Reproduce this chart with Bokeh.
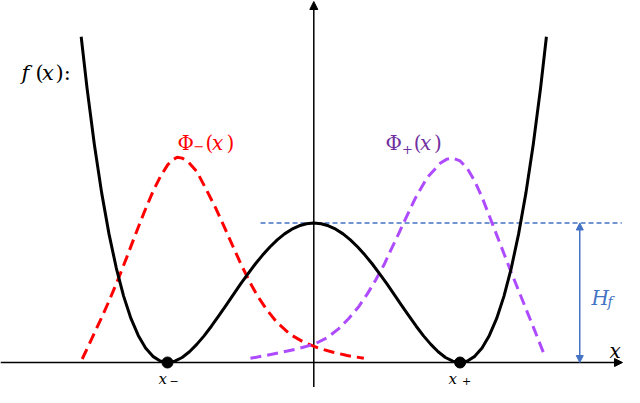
from bokeh.plotting import figure
from bokeh.models import Range1d, Arrow, NormalHead, Label
from bokeh.embed import file_html
from bokeh.resources import INLINE

# ---------------- data ----------------
x_minus = -1.0          # left well position
x_plus = 1.0            # right well position
H_f = 1.0               # barrier height

# double-well f(x)
black_x = [-1.59, -1.55, -1.50, -1.45, -1.40, -1.35, -1.30, -1.25, -1.20, -1.15, -1.10,
           -1.05, -1.00, -0.95, -0.90, -0.85, -0.80, -0.75, -0.70, -0.65, -0.60, -0.55,
           -0.50, -0.45, -0.40, -0.35, -0.30, -0.25, -0.20, -0.15, -0.10, -0.05, 0.00,
           0.05, 0.10, 0.15, 0.20, 0.25, 0.30, 0.35, 0.40, 0.45, 0.50, 0.55, 0.60, 0.65,
           0.70, 0.75, 0.80, 0.85, 0.90, 0.95, 1.00, 1.05, 1.10, 1.15, 1.20, 1.25, 1.30,
           1.35, 1.40, 1.45, 1.50, 1.55, 1.59]
black_y = [2.335, 1.967, 1.563, 1.216, 0.922, 0.677, 0.476, 0.316, 0.194, 0.104, 0.044,
           0.011, 0.000, 0.010, 0.036, 0.077, 0.130, 0.191, 0.260, 0.334, 0.410, 0.487,
           0.563, 0.636, 0.706, 0.770, 0.828, 0.879, 0.922, 0.956, 0.980, 0.995, 1.000,
           0.995, 0.980, 0.956, 0.922, 0.879, 0.828, 0.770, 0.706, 0.636, 0.563, 0.487,
           0.410, 0.334, 0.260, 0.191, 0.130, 0.077, 0.036, 0.010, 0.000, 0.011, 0.044,
           0.104, 0.194, 0.316, 0.476, 0.677, 0.922, 1.216, 1.563, 1.967, 2.335]

# Phi_-(x)
red_x = [-1.583, -1.52, -1.46, -1.40, -1.34, -1.28, -1.22, -1.16, -1.10, -1.05, -1.00,
         -0.97, -0.934, -0.90, -0.86, -0.80, -0.74, -0.672, -0.615, -0.558, -0.50,
         -0.444, -0.387, -0.319, -0.250, -0.159, -0.068, 0.034, 0.126, 0.228, 0.342]
red_y = [0.025, 0.165, 0.30, 0.44, 0.59, 0.75, 0.915, 1.075, 1.225, 1.33, 1.415,
         1.45, 1.471, 1.465, 1.44, 1.37, 1.25, 1.11, 0.98, 0.845, 0.71,
         0.59, 0.48, 0.375, 0.285, 0.200, 0.145, 0.103, 0.075, 0.050, 0.030]

# Phi_+(x)
purple_x = [-0.433, -0.33, -0.228, -0.113, 0.0, 0.092, 0.171, 0.239, 0.308, 0.365, 0.422,
            0.48, 0.524, 0.581, 0.627, 0.695, 0.775, 0.866, 0.91, 0.946, 1.00, 1.05, 1.10,
            1.15, 1.20, 1.25, 1.30, 1.35, 1.40, 1.45, 1.50, 1.57]
purple_y = [0.030, 0.050, 0.071, 0.098, 0.130, 0.178, 0.243, 0.315, 0.402, 0.490, 0.590,
            0.700, 0.800, 0.925, 1.030, 1.180, 1.325, 1.430, 1.458, 1.466, 1.445, 1.39, 1.30,
            1.185, 1.05, 0.915, 0.78, 0.645, 0.515, 0.385, 0.255, 0.07]

well_x = [x_minus, x_plus]
well_y = [0.0, 0.0]

barrier_line_x = [-0.364, 2.105]  # extent of the dashed barrier level
H_arrow_x = 1.818                 # where the H_f arrow stands

# ---------------- layout helpers (canvas pixel -> data) ----------------
W, H = 624, 387
X0, SX = 313.3, 146.3            # x: 1:1 with the reference
AXIS_Y = 362.0                   # canvas row of the x axis
K = (AXIS_Y - 1) / (377 - 1)     # slight vertical squeeze so everything fits
SY = 145.3 * K
def U(cx):
    return (cx - X0) / SX
def VC(cy):
    return (AXIS_Y - cy) / SY
def CY(ref_y):
    return 1 + (ref_y - 1) * K

p = figure(width=W, height=H,
           x_range=Range1d(U(0), U(W)), y_range=Range1d(VC(H), VC(0)),
           x_axis_type=None, y_axis_type=None,
           output_backend="svg", toolbar_location=None, min_border=0,
           outline_line_color=None, background_fill_color="white",
           border_fill_color="white")
p.grid.visible = False

RED = "#FF0000"
PURPLE = "#AE4BFF"
PURPLE_TXT = "#7030A0"
BLUE = "#4472C4"

# axes as arrows
p.add_layout(Arrow(end=NormalHead(size=8, fill_color="black", line_color="black", line_width=1),
                   x_start=0, y_start=VC(H), x_end=0, y_end=VC(1),
                   line_color="black", line_width=1.5, level="underlay"))
p.add_layout(Arrow(end=NormalHead(size=8, fill_color="black", line_color="black", line_width=1),
                   x_start=U(0), y_start=0, x_end=U(622), y_end=0,
                   line_color="black", line_width=1.5, level="underlay"))

# barrier level + H_f arrow
p.line(barrier_line_x, [H_f, H_f], line_color=BLUE, line_width=1.5, line_dash="5 3")
p.add_layout(Arrow(start=NormalHead(size=7, fill_color=BLUE, line_color=BLUE, line_width=1),
                   end=NormalHead(size=7, fill_color=BLUE, line_color=BLUE, line_width=1),
                   x_start=H_arrow_x, y_start=0, x_end=H_arrow_x, y_end=H_f,
                   line_color=BLUE, line_width=1.5))

# wavefunctions
p.line(red_x, red_y, line_color=RED, line_width=3, line_dash="11 6")
p.line(purple_x, purple_y, line_color=PURPLE, line_width=3, line_dash="11 6")

# potential
p.line(black_x, black_y, line_color="black", line_width=3, line_join="round")
p.scatter(well_x, well_y, size=11, fill_color="black", line_color="black")

FONT = "DejaVu Serif"
def txt(s, cx, cy, size, style="normal", color="black"):
    p.add_layout(Label(x=U(cx), y=VC(cy), text=s, text_font=FONT,
                       text_font_size=f"{size}px", text_font_style=style,
                       text_color=color, text_align="left", text_baseline="alphabetic"))

# f(x):
txt("f", 21, CY(75), 21, "italic")
txt("(", 35, CY(75), 21)
txt("x", 41.5, CY(75), 21, "italic")
txt("):", 55, CY(75), 21)

# Phi_-(x)
txt("Φ", 177, CY(148), 20, color=RED)
txt("−", 193, CY(152), 13, color=RED)
txt("(", 205, CY(148), 20, color=RED)
txt("x", 211.5, CY(148), 20, "italic", color=RED)
txt(")", 226, CY(148), 20, color=RED)

# Phi_+(x)
txt("Φ", 385, CY(148), 20, color=PURPLE_TXT)
txt("+", 401.5, CY(155), 13, color=PURPLE_TXT)
txt("(", 413.3, CY(148), 20, color=PURPLE_TXT)
txt("x", 419.5, CY(148), 20, "italic", color=PURPLE_TXT)
txt(")", 433.5, CY(148), 20, color=PURPLE_TXT)

# x_-, x_+
txt("x", 158, 378, 15, "italic")
txt("−", 169, 380, 11)
txt("x", 448, 378, 15, "italic")
txt("+", 461.5, 380, 11)

# axis label x
txt("x", 609, CY(365.5), 20, "italic")

# H_f
txt("H", 591, CY(310), 20, "italic", color=BLUE)
txt("f", 607, CY(314), 14, "italic", color=BLUE)

open("out.html", "w").write(file_html(p, INLINE))
